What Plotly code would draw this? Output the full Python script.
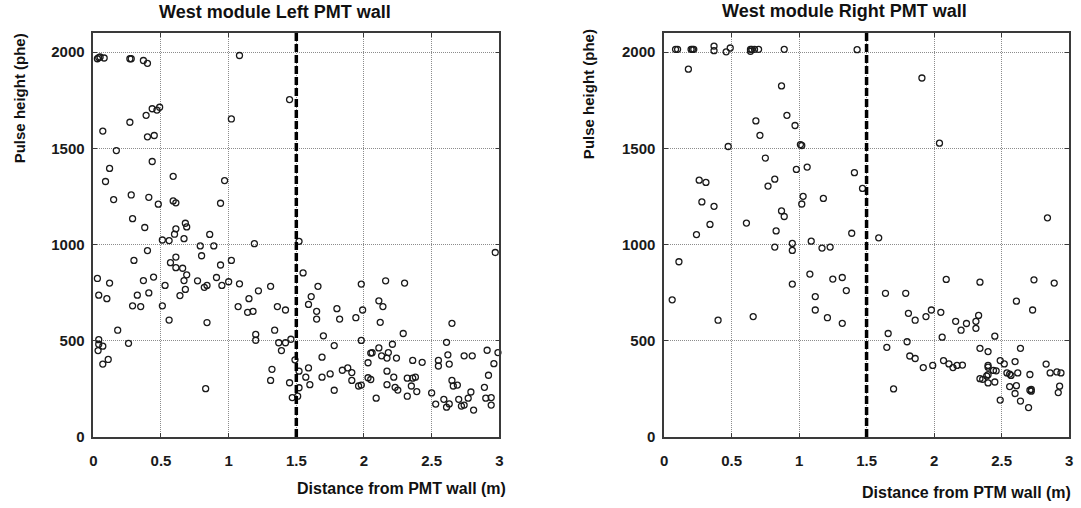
import plotly.graph_objects as go

# ---------------- data ----------------
left_x = [0.03,0.04,0.05,0.08,0.27,0.28,0.37,0.40,1.08,1.45,1.02,0.435,0.47,0.49,0.39,0.27,0.07,0.40,0.45,
          0.17,0.12,0.435,0.09,0.59,0.97,0.15,0.28,0.41,0.48,0.59,0.61,0.94,0.29,0.38,0.61,0.60,0.68,0.69,
          0.51,0.56,0.67,0.86,1.19,0.79,0.89,0.40,0.30,0.57,0.61,0.61,0.66,0.80,0.94,1.02,
          0.03,0.12,0.37,0.445,0.53,0.67,0.69,0.77,0.82,0.84,0.91,0.95,1.00,1.08,
          0.04,0.10,0.325,0.41,0.64,0.68,1.15,1.22,1.31,0.29,0.35,0.51,1.07,1.14,1.18,1.36,1.42,
          0.56,0.84,0.18,1.34,1.20,1.20,0.04,0.04,0.07,0.035,0.26,1.37,1.42,1.46,1.39,
          0.07,0.11,1.32,1.31,1.45,0.83,1.47,1.51,1.49,1.52,1.52,
          1.52,2.97,1.55,1.66,1.61,1.59,1.65,1.65,1.98,2.16,2.30,1.80,1.82,1.94,1.99,2.11,2.14,2.12,2.65,
          1.70,2.29,1.98,1.78,2.61,2.21,2.11,2.05,2.06,2.13,2.17,2.18,2.24,2.03,2.36,2.43,2.62,2.63,2.55,2.55,
          2.74,2.80,2.91,2.99,2.96,2.92,1.69,1.59,1.57,1.69,1.75,1.84,1.88,1.91,1.91,1.60,
          1.78,1.98,1.96,2.03,2.05,2.17,2.22,2.17,2.23,2.25,2.32,2.36,2.38,2.35,2.39,2.32,2.09,2.50,2.53,
          2.59,2.61,2.63,2.65,2.66,2.69,2.70,2.72,2.74,2.77,2.79,2.81,2.89,2.90,2.94,2.94]
left_y = [1966,1972,1975,1970,1966,1966,1957,1942,1983,1754,1653,1706,1699,1714,1672,1636,1590,1560,1567,
          1489,1396,1432,1328,1355,1333,1234,1258,1246,1210,1227,1217,1215,1135,1089,1082,1054,1111,1092,
          1024,1021,1031,1053,1005,993,993,969,918,906,935,880,877,942,894,918,
          824,800,813,831,788,813,843,812,778,788,829,788,807,796,
          737,719,737,749,735,767,719,760,783,682,678,682,678,648,653,678,660,
          608,595,555,555,533,503,506,482,472,449,487,490,490,508,449,
          379,403,352,294,282,251,205,212,401,342,256,
          1017,959,853,783,730,689,653,613,795,812,800,667,613,620,660,708,678,596,591,
          526,538,502,475,492,482,463,436,438,422,410,439,410,386,398,388,427,379,398,369,
          422,422,451,439,381,321,415,359,311,311,328,347,359,335,294,272,
          243,270,265,308,299,342,311,272,258,244,306,306,311,265,236,212,202,229,171,
          196,155,172,294,265,270,196,161,166,202,234,140,258,202,205,166]

right_x = [0.085,0.10,0.20,0.21,0.22,0.37,0.37,0.46,0.49,0.64,0.65,0.67,0.70,0.64,0.89,1.43,
           0.18,0.87,1.91,0.91,0.68,0.97,0.71,2.04,1.01,1.02,0.475,0.75,0.98,1.06,1.41,0.26,0.31,0.82,0.77,
           1.47,0.28,0.37,1.03,1.02,1.18,0.87,0.89,0.34,0.61,0.24,0.83,2.84,1.39,1.59,0.95,1.09,
           0.82,0.95,1.17,1.23,0.11,1.08,0.95,0.06,1.12,1.12,0.40,0.66,1.21,
           1.25,1.32,1.35,1.32,2.09,2.34,2.74,2.89,1.64,1.79,2.61,2.73,1.81,1.86,1.94,1.98,2.05,2.16,2.20,
           2.24,2.31,2.33,2.31,2.45,1.66,2.06,1.65,1.80,1.82,1.86,1.92,1.99,2.07,2.11,2.14,2.17,2.21,
           2.34,2.40,2.64,2.49,2.52,2.60,2.40,2.40,2.46,2.44,2.54,2.56,2.57,2.62,2.71,2.83,2.86,2.91,2.94,
           2.40,2.39,2.34,2.36,2.40,2.45,2.56,2.61,2.60,2.64,2.49,2.72,2.72,2.71,2.70,2.93,2.92,1.70]
right_y = [2015,2015,2015,2015,2015,2032,2008,2002,2022,2015,2015,2015,2015,2005,2015,2013,
           1912,1825,1866,1672,1643,1619,1568,1527,1520,1515,1510,1450,1391,1403,1374,1335,1323,1340,1304,
           1292,1222,1199,1251,1211,1240,1175,1146,1105,1112,1052,1071,1139,1059,1035,1006,1018,
           987,970,982,987,911,847,795,713,730,660,607,626,620,
           821,829,761,591,819,805,817,800,747,747,706,660,643,607,626,660,648,601,555,
           590,601,632,565,524,538,519,466,495,421,408,361,372,397,380,361,372,374,
           461,444,461,397,380,392,372,363,344,346,333,327,320,333,325,379,333,338,333,
           324,317,303,300,281,286,262,267,226,187,192,247,238,243,153,264,231,250]

x_ticks = [0, 0.5, 1, 1.5, 2, 2.5, 3]
x_tick_labels = ["0", "0.5", "1", "1.5", "2", "2.5", "3"]
y_ticks = [0, 500, 1000, 1500, 2000]
y_tick_labels = ["0", "500", "1000", "1500", "2000"]
cut_distance = 1.5

titles = ["West module Left PMT wall", "West module Right PMT wall"]
x_titles = ["Distance from PMT wall (m)", "Distance from PTM wall (m)"]
y_title = "Pulse height (phe)"

# ---------------- figure ----------------
W, H = 1081, 508
FONT = "Liberation Sans, Arial, sans-serif"
fig = go.Figure()

marker = dict(symbol="circle-open", size=6, color="#1a1a1a", line=dict(width=1.3, color="#1a1a1a"))
fig.add_trace(go.Scatter(x=left_x, y=left_y, mode="markers", marker=marker, xaxis="x", yaxis="y",
                         showlegend=False, hoverinfo="x+y", cliponaxis=False))
fig.add_trace(go.Scatter(x=right_x, y=right_y, mode="markers", marker=marker, xaxis="x2", yaxis="y2",
                         showlegend=False, hoverinfo="x+y", cliponaxis=False))

def px(v):
    return v / W

def py(v):
    return 1 - v / H

ydom = [py(444), py(33.5)]
xdoms = [[px(90), px(499)], [px(665), px(1073)]]

tickfont = dict(family=FONT, size=15, color="#1a1a1a", weight="bold")
grid = dict(showgrid=True, gridcolor="#8c8c8c", griddash="1px,1px", gridwidth=1, zeroline=False,
            showline=True, mirror="allticks", linecolor="#3a3a3a", linewidth=1.5,
            ticks="inside", ticklen=4, tickcolor="#3a3a3a", ticklabeloverflow="allow",
            tickfont=tickfont, fixedrange=True)
common_x = dict(range=[0, 3], tickvals=x_ticks, ticktext=x_tick_labels, ticklabelstandoff=9, **grid)
common_y = dict(range=[0, 2100], tickvals=y_ticks, ticktext=y_tick_labels, ticklabelstandoff=4, **grid)

fig.update_layout(
    width=W, height=H,
    margin=dict(l=0, r=0, t=0, b=0),
    paper_bgcolor="white", plot_bgcolor="white",
    xaxis=dict(domain=xdoms[0], anchor="y", **common_x),
    yaxis=dict(domain=ydom, anchor="x", **common_y),
    xaxis2=dict(domain=xdoms[1], anchor="y2", **common_x),
    yaxis2=dict(domain=ydom, anchor="x2", **common_y),
)

# dashed cut line at 1.5 m
for xr, yr in (("x", "y"), ("x2", "y2")):
    fig.add_shape(type="line", xref=xr, yref=yr, x0=cut_distance, x1=cut_distance, y0=0, y1=2100,
                  line=dict(color="black", width=3.5, dash="8px,3px"), layer="above")

# titles / axis titles as annotations
title_pos = [(273, 12), (847, 11)]
xt_pos = [(400, 496), (970, 500)]
yt_pos = [(16, 100), (589, 96)]
for i in range(2):
    fig.add_annotation(text=f"<b>{titles[i]}</b>", xref="paper", yref="paper",
                       x=px(title_pos[i][0]), y=py(title_pos[i][1]), showarrow=False,
                       xanchor="center", yanchor="middle",
                       font=dict(family=FONT, size=18, color="#111"))
    fig.add_annotation(text=f"<b>{x_titles[i]}</b>", xref="paper", yref="paper",
                       x=px(xt_pos[i][0]), y=py(xt_pos[i][1]), showarrow=False,
                       xanchor="center", yanchor="middle",
                       font=dict(family=FONT, size=16, color="#111"))
    fig.add_annotation(text=f"<b>{y_title}</b>", xref="paper", yref="paper",
                       x=px(yt_pos[i][0]), y=py(yt_pos[i][1]), showarrow=False, textangle=-90,
                       xanchor="center", yanchor="middle",
                       font=dict(family=FONT, size=15, color="#111"))

fig.write_html("out.html", config={"displayModeBar": False},
               post_script="document.body.style.margin='0';document.body.style.padding='0';")
